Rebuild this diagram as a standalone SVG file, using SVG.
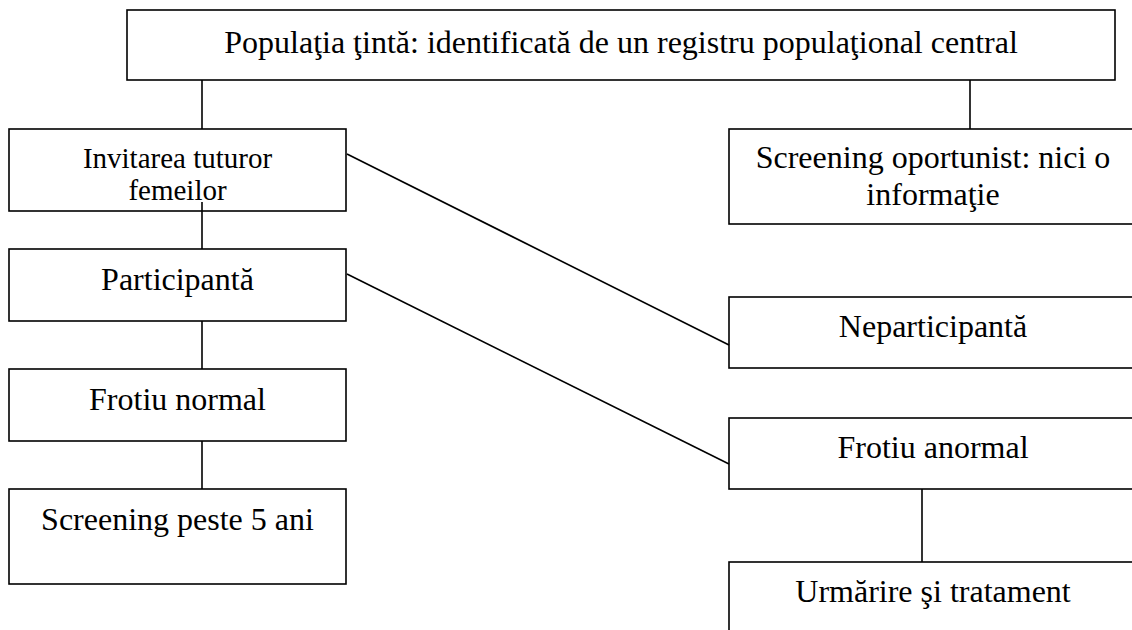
<svg xmlns="http://www.w3.org/2000/svg" width="1132" height="630" viewBox="0 0 1132 630">
<style>
.box{fill:#fff;stroke:#000;stroke-width:1.6}
.t{font-family:"Liberation Serif","Times New Roman",serif;font-size:32px;fill:#000;text-anchor:middle}
.s{font-size:29px}
.c{stroke:#000;stroke-width:1.6;fill:none}
</style>
<rect width="1132" height="630" fill="#fff"/>
<g id="n-populatia">
<rect class="box" x="127" y="10" width="988" height="70"/>
<text class="t" x="621" y="53">Populaţia ţintă: identificată de un registru populaţional central</text>
</g>
<g id="n-invitarea">
<rect class="box" x="9" y="129" width="337" height="82"/>
<text class="t s" x="177.5" y="168">Invitarea tuturor</text>
<text class="t s" x="177.5" y="200">femeilor</text>
</g>
<g id="n-participanta">
<rect class="box" x="9" y="249" width="337" height="72"/>
<text class="t" x="177.5" y="290">Participantă</text>
</g>
<g id="n-frotiu-normal">
<rect class="box" x="9" y="369" width="337" height="72"/>
<text class="t" x="177.5" y="410">Frotiu normal</text>
</g>
<g id="n-screening-5">
<rect class="box" x="9" y="489" width="337" height="95"/>
<text class="t" x="177.5" y="530">Screening peste 5 ani</text>
</g>
<g id="n-oportunist">
<rect class="box" x="729" y="129" width="420" height="95"/>
<text class="t" x="933" y="168">Screening oportunist: nici o</text>
<text class="t" x="933" y="205">informaţie</text>
</g>
<g id="n-neparticipanta">
<rect class="box" x="729" y="297" width="420" height="71"/>
<text class="t" x="933" y="337">Neparticipantă</text>
</g>
<g id="n-frotiu-anormal">
<rect class="box" x="729" y="418" width="420" height="71"/>
<text class="t" x="933" y="458">Frotiu anormal</text>
</g>
<g id="n-urmarire">
<rect class="box" x="729" y="562" width="420" height="100"/>
<text class="t" x="933" y="602">Urmărire şi tratament</text>
</g>
<g id="connectors">
<line class="c" x1="202" y1="80" x2="202" y2="129"/>
<line class="c" x1="970" y1="80" x2="970" y2="129"/>
<line class="c" x1="202" y1="202" x2="202" y2="249"/>
<line class="c" x1="202" y1="321" x2="202" y2="369"/>
<line class="c" x1="202" y1="441" x2="202" y2="489"/>
<line class="c" x1="347" y1="154" x2="729" y2="345"/>
<line class="c" x1="347" y1="274" x2="729" y2="464"/>
<line class="c" x1="922" y1="489" x2="922" y2="562"/>
</g>
</svg>
